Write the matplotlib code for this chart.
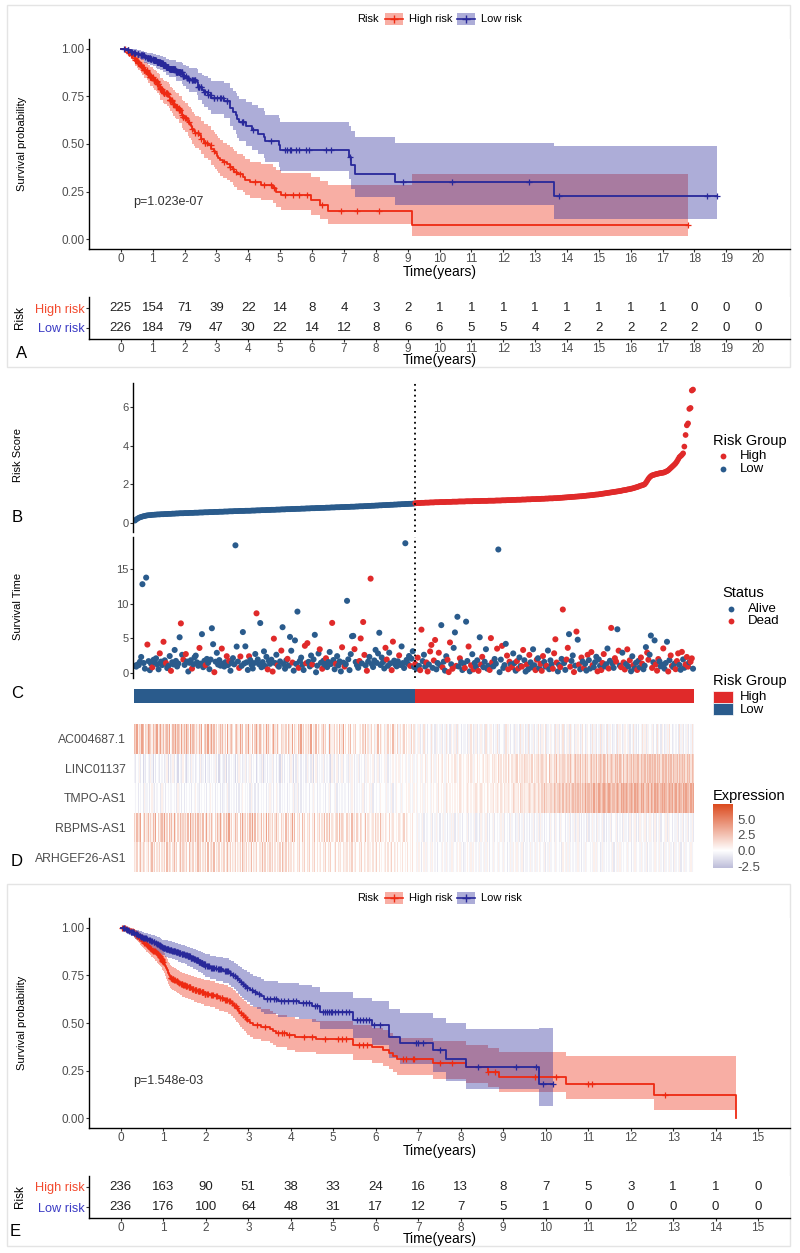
import numpy as np
import matplotlib
matplotlib.use("Agg")
import matplotlib.pyplot as plt
from matplotlib.colors import LinearSegmentedColormap, ListedColormap, TwoSlopeNorm
from matplotlib.patches import Rectangle

plt.rcParams['font.family'] = ['Liberation Sans', 'DejaVu Sans']

W, H = 800, 1253

# ---------------- data ----------------
# training cohort, patients in order of increasing risk score
# survival time in years, "+" = alive (censored)
A_LOW_SURV = """
1.05+ 0.92+ 1.21+ 1.13+ 1.62+ 2.31+ 12.8+ 1.44+ 0.63+ 13.75+
4.1 1.71+ 0.41+ 1.33+ 0.82 1.91+ 1.52+ 2.12+ 1.24+ 0.53+
2.83 1.64+ 1.15+ 4.5 1.83+ 1.42 0.71+ 1.02+ 2.44+ 0.31
1.55+ 1.23+ 3.32+ 1.74+ 0.94+ 1.36+ 5.15+ 7.15 2.62+ 1.93
1.16+ 2.73 1.65+ 0.22+ 1.47+ 1.84+ 0.64 1.26+ 2.25+ 2.51+
1.53+ 1.04+ 3.61 1.35+ 5.6+ 0.84+ 1.76+ 1.12 2.03+ 1.45+
0.55+ 1.94+ 6.45+ 4.15+ 0.12 1.63+ 2.91+ 1.22+ 1.86+ 1.06+
3.52 1.34+ 0.93+ 1.56+ 2.42 1.14+ 1.72 0.33+ 1.46+ 2.14+
1.25+ 18.4+ 3.81+ 1.66+ 0.73 2.38 1.03+ 5.9+ 1.37+ 3.84+
1.54+ 0.44+ 2.41 1.85+ 1.17+ 0.65+ 1.43+ 2.74+ 8.6 1.95+
1.27+ 7.2+ 0.83+ 1.57+ 3.12+ 1.01+ 2.33+ 0.52 1.73+ 1.32+
1.92+ 0.21 4.95 1.44+ 2.63+ 1.11 0.91+ 1.67+ 3.23 6.6+
1.28+ 0.62+ 1.82+ 2.04 1.07+ 5.2+ 3.21+ 1.51 0.34+ 4.7+
1.31+ 8.85+ 0.74 1.75+ 2.22+ 1.18+ 0.43+ 3.92 1.41 4.3
1.61+ 0.95+ 2.52+ 1.23 1.96+ 5.5+ 0.11+ 1.05+ 2.81+ 3.42
1.48+ 0.61 1.77+ 1.19+ 2.13 0.85+ 1.58+ 3.03+ 1.29+ 7.22
1.87+ 0.54+ 1.32 2.43+ 1.08+ 1.68+ 0.23+ 3.71 1.49+ 0.93
1.26+ 10.4+ 1.97+ 0.42+ 2.72+ 5.3+ 5.35+ 3.44 1.59+ 1.13+
0.75+ 1.73 4.98 1.38+ 7.35 2.61 1.09+ 0.32 1.64+ 2.32+
13.6 1.27+ 0.86+ 1.81+ 3.33+ 1.46+ 2.82+ 5.8+ 1.15+ 2.23+
1.56+ 0.66+ 3.63 1.94 1.04+ 2.93+ 1.39+ 0.41 4.52 1.78+
1.22+ 0.96+ 1.69+ 2.54 1.16+ 3.83+ 1.43+ 0.72+ 18.7+ 1.88+
1.34+ 2.45+ 1.02 2.06+ 3.14+ 0.87+
"""
A_HIGH_SURV = """
1.31 0.62+ 2.21 1.04+ 0.41 6.25 1.72+ 2.63+ 0.93+ 1.52
0.22 1.23+ 3.11 4.05 0.74+ 1.81 4.76 0.53+ 1.44+ 2.92
1.13+ 6.9+ 0.82 1.64+ 0.34+ 2.42+ 1.91 0.13 4.4 1.26+
0.61 3.62+ 5.85+ 1.02 8.1+ 0.94+ 2.12 1.55+ 0.43+ 1.35+
0.72 7.4+ 1.73+ 3.82 0.24+ 1.11 2.71+ 0.52 1.46+ 0.91+
1.83+ 0.31 5.15+ 1.22 2.33 0.84+ 1.62+ 3.43+ 0.63+ 1.05+
0.44 5.03 1.53 0.95+ 2.02+ 1.34+ 3.51 17.8+ 0.12+ 1.93+
3.91 0.73+ 1.14+ 4.2+ 2.51 0.54 1.63 1.24+ 0.83 2.82+
1.42+ 0.33+ 1.71 0.64 2.24+ 1.01+ 0.92 3.32 1.84+ 0.21+
1.21 0.51+ 2.61 1.54+ 0.81+ 3.42+ 1.12+ 0.42 1.92 2.13+
0.71+ 1.32 0.32 2.44 1.61+ 0.93+ 1.03 3.24+ 0.55+ 1.82+
1.25+ 0.62 2.84 4.86 1.51 0.23+ 1.15+ 0.85 2.03+ 9.15
1.43+ 0.45+ 1.94 3.63 5.6+ 0.91 1.74+ 2.53+ 0.14 1.06+
5.97 4.8+ 1.22 0.53+ 2.23 1.65+ 0.72 1.33+ 0.35+ 2.62
1.85+ 0.64+ 3.02 1.13 0.83+ 1.56+ 2.34+ 0.24 1.95+ 1.04+
0.43 1.45 2.73 0.94+ 1.27+ 3.53+ 0.65 1.76+ 6.5 1.36+
0.74+ 2.14 1.64 6.3+ 3.22 1.07+ 0.84 2.93+ 1.53 0.51
1.28+ 3.41 0.95+ 1.83 0.25+ 2.41+ 1.14 0.66+ 1.47+ 0.44
1.75+ 0.82+ 2.24 1.34 0.54+ 1.05+ 3.73+ 2.94 1.91 2.64+
5.4+ 0.73 1.55+ 4.7+ 1.23 0.34 2.01 1.66+ 0.96+ 1.16+
3.54 0.63+ 1.44+ 4.5+ 0.22 1.86+ 2.53 1.02 0.85+ 1.35+
0.55 1.72 2.83 1.17+ 0.46+ 3.04 1.96+ 0.75+ 1.24 2.31
0.92 1.54+ 1.62 2.11 0.62+
"""

RISK_SCORE_LOW = [
    0.12, 0.18, 0.22, 0.26, 0.29, 0.31, 0.33, 0.35, 0.36, 0.38,
    0.39, 0.40, 0.40, 0.41, 0.42, 0.42, 0.43, 0.43, 0.44, 0.44,
    0.44, 0.45, 0.45, 0.45, 0.46, 0.46, 0.46, 0.47, 0.47, 0.47,
    0.48, 0.48, 0.48, 0.49, 0.49, 0.49, 0.50, 0.50, 0.50, 0.50,
    0.51, 0.51, 0.51, 0.51, 0.52, 0.52, 0.52, 0.52, 0.53, 0.53,
    0.53, 0.53, 0.54, 0.54, 0.54, 0.54, 0.55, 0.55, 0.55, 0.55,
    0.56, 0.56, 0.56, 0.56, 0.57, 0.57, 0.57, 0.57, 0.58, 0.58,
    0.58, 0.58, 0.59, 0.59, 0.59, 0.59, 0.60, 0.60, 0.60, 0.60,
    0.61, 0.61, 0.61, 0.61, 0.62, 0.62, 0.62, 0.62, 0.62, 0.63,
    0.63, 0.63, 0.63, 0.63, 0.64, 0.64, 0.64, 0.64, 0.65, 0.65,
    0.65, 0.65, 0.66, 0.66, 0.66, 0.66, 0.67, 0.67, 0.67, 0.67,
    0.68, 0.68, 0.68, 0.68, 0.69, 0.69, 0.69, 0.69, 0.70, 0.70,
    0.70, 0.70, 0.71, 0.71, 0.71, 0.71, 0.72, 0.72, 0.72, 0.72,
    0.73, 0.73, 0.73, 0.73, 0.74, 0.74, 0.74, 0.74, 0.75, 0.75,
    0.75, 0.75, 0.76, 0.76, 0.76, 0.76, 0.77, 0.77, 0.77, 0.77,
    0.78, 0.78, 0.78, 0.78, 0.79, 0.79, 0.79, 0.79, 0.80, 0.80,
    0.80, 0.80, 0.81, 0.81, 0.81, 0.81, 0.82, 0.82, 0.82, 0.82,
    0.83, 0.83, 0.83, 0.83, 0.84, 0.84, 0.84, 0.84, 0.85, 0.85,
    0.85, 0.86, 0.86, 0.86, 0.86, 0.87, 0.87, 0.87, 0.88, 0.88,
    0.88, 0.89, 0.89, 0.89, 0.90, 0.90, 0.90, 0.91, 0.91, 0.91,
    0.92, 0.92, 0.92, 0.93, 0.93, 0.93, 0.94, 0.94, 0.94, 0.95,
    0.95, 0.95, 0.96, 0.96, 0.96, 0.97, 0.97, 0.97, 0.98, 0.98,
    0.98, 0.99, 0.99, 0.99, 1.00, 1.00,
]
RISK_SCORE_HIGH = [
    1.02, 1.02, 1.03, 1.03, 1.03, 1.04, 1.04, 1.04, 1.05, 1.05,
    1.05, 1.05, 1.06, 1.06, 1.06, 1.06, 1.07, 1.07, 1.07, 1.07,
    1.08, 1.08, 1.08, 1.08, 1.08, 1.09, 1.09, 1.09, 1.09, 1.09,
    1.10, 1.10, 1.10, 1.10, 1.10, 1.11, 1.11, 1.11, 1.11, 1.11,
    1.11, 1.12, 1.12, 1.12, 1.12, 1.12, 1.12, 1.13, 1.13, 1.13,
    1.13, 1.13, 1.13, 1.14, 1.14, 1.14, 1.14, 1.14, 1.14, 1.15,
    1.15, 1.15, 1.15, 1.15, 1.15, 1.16, 1.16, 1.16, 1.16, 1.16,
    1.17, 1.17, 1.17, 1.17, 1.18, 1.18, 1.18, 1.18, 1.19, 1.19,
    1.19, 1.19, 1.20, 1.20, 1.20, 1.20, 1.21, 1.21, 1.21, 1.21,
    1.22, 1.22, 1.22, 1.22, 1.23, 1.23, 1.23, 1.23, 1.24, 1.24,
    1.24, 1.24, 1.25, 1.25, 1.25, 1.26, 1.26, 1.26, 1.27, 1.27,
    1.27, 1.27, 1.28, 1.28, 1.28, 1.29, 1.29, 1.30, 1.30, 1.31,
    1.31, 1.32, 1.32, 1.33, 1.33, 1.34, 1.34, 1.35, 1.35, 1.36,
    1.36, 1.37, 1.37, 1.38, 1.38, 1.39, 1.40, 1.40, 1.41, 1.42,
    1.42, 1.43, 1.44, 1.44, 1.45, 1.46, 1.47, 1.47, 1.48, 1.49,
    1.50, 1.51, 1.52, 1.53, 1.54, 1.55, 1.56, 1.57, 1.58, 1.59,
    1.60, 1.61, 1.62, 1.63, 1.64, 1.65, 1.66, 1.68, 1.69, 1.70,
    1.71, 1.73, 1.74, 1.75, 1.77, 1.78, 1.80, 1.82, 1.84, 1.86,
    1.88, 1.91, 1.93, 1.95, 1.97, 2.00, 2.08, 2.18, 2.28, 2.36,
    2.42, 2.46, 2.48, 2.50, 2.52, 2.54, 2.55, 2.57, 2.58, 2.59,
    2.60, 2.62, 2.65, 2.68, 2.72, 2.78, 2.84, 2.90, 2.96, 3.02,
    3.09, 3.18, 3.29, 3.40, 3.46, 3.52, 3.60, 3.95, 4.55, 5.05,
    5.15, 5.90, 5.95, 6.85, 6.90,
]

A_YEARS = list(range(0, 21))
A_HIGH_RISK = [225, 154, 71, 39, 22, 14, 8, 4, 3, 2, 1, 1, 1, 1, 1, 1, 1, 1, 0, 0, 0]
A_LOW_RISK = [226, 184, 79, 47, 30, 22, 14, 12, 8, 6, 6, 5, 5, 4, 2, 2, 2, 2, 2, 0, 0]

# expression heatmap, one digit per patient (same order), level index into EXPR_LEVELS
GENES = ['AC004687.1', 'LINC01137', 'TMPO-AS1', 'RBPMS-AS1', 'ARHGEF26-AS1']
EXPR_LEVELS = [-2.2, -1.6, -1.0, -0.5, 0.0, 0.6, 1.2, 1.9, 2.8, 3.8]
EXPR_CODES = [
    # AC004687.1
    "8795769847 6987586795 7968578694 5879687596 8697496875 7586947869 5796857468 6857495786 "
    "4786596847 7695484796 5864759685 4796585476 6574865947 5486957465 7594658475 4685743965 "
    "5746485694 6475846574 4564758463 5746358475 4635746485 5473645746 453746 "
    "3435243634 2436342534 3524363425 4352634243 3425364235 2435342634 3542436324 4326354243 "
    "2534263542 3624352436 4253462345 3426352436 2435263425 3542364235 4236352436 2534263542 "
    "3426354235 4352436324 2436352534 3524263425 4235364234 3426352435 24363",
    # LINC01137
    "3243524132 4325314243 2434235142 3524314325 4213425342 3425234143 2434352413 4325142434 "
    "3142534235 2435243413 4325134243 3524243152 4243425314 2534243425 3425145243 4352434215 "
    "3245243524 4325354243 5243425354 3452435243 4535243454 3545345435 435453 "
    "4354535463 5436453546 4564354645 5465346545 4556465354 6454564565 5465654756 4656475465 "
    "5674656576 6565746567 5676567486 6576857667 7657686578 6768576867 5786768578 7687586787 "
    "6878687586 7867868778 8687786878 7878687868 8786878687 7868787868 78687",
    # TMPO-AS1
    "4342434253 3424532434 4253424343 3434253424 2434342435 4324343424 3543424342 4234352434 "
    "3424243543 4342534243 2434342435 3424534243 4342434352 3524243434 4243534243 3434243524 "
    "4352434343 3424354243 4343524345 3524434354 4435343524 3544353445 453435 "
    "4534545354 5435454536 4545365454 5454546545 4565454556 5456545465 4556456546 5465565457 "
    "6556476565 5676567657 6576867667 7687678768 6787867878 7878687978 8787978798 7898789878 "
    "8789879898 9878987989 8798978897 9879898789 8987898978 9789879898 87989",
    # RBPMS-AS1
    "7586794685 6857586947 5786957486 8596475867 6758496758 5867584695 7586475869 6475869574 "
    "5867485967 4758695847 6584759486 5746856475 6485746958 4657485746 5746584657 4658475846 "
    "5467485764 4756485647 5476458465 4564756485 5465474564 4546545746 545464 "
    "4353435243 3435243534 2435342435 3524353424 4352434352 3425343524 2435243435 3524342534 "
    "4235243524 3424352435 2534243425 3425342534 4243524352 3524243425 2435342534 3524243524 "
    "4352434253 3425243524 2534352435 3425243524 4352534243 3524352435 24352",
    # ARHGEF26-AS1
    "6574685764 5746857465 7465748576 4685746857 6574865746 5867465748 4675846574 6574685746 "
    "5746574865 7465846574 4658574657 5746465748 6574756465 4657465746 5746574645 6465746574 "
    "4574656465 5646574564 4657465465 5464574645 4564645746 5464546454 645464 "
    "4535424535 3453543424 4354353435 5343545342 3454353543 4353435354 2435343534 3534243535 "
    "4353435243 3435343534 5343524353 3435343425 4353534343 3534243534 4343535342 3534343435 "
    "2435353434 3534243534 4353435243 3435343534 2534353425 3435243534 43534",
]

# validation cohort: death times and censoring times (years)
E_HIGH_DEATH = [
    0.05, 0.12, 0.18, 0.22, 0.27, 0.3, 0.32, 0.34, 0.36, 0.38, 0.4, 0.42, 0.44, 0.46, 0.48,
    0.5, 0.52, 0.54, 0.56, 0.58, 0.6, 0.63, 0.66, 0.68, 0.7, 0.72, 0.75, 0.78, 0.81,
    0.84, 0.86, 0.88, 0.9, 0.92, 0.94, 0.96, 0.97, 0.98, 0.99,
    1.01, 1.02, 1.03, 1.04, 1.05, 1.06, 1.07, 1.08, 1.09, 1.1, 1.11, 1.12, 1.13, 1.14, 1.15,
    1.16, 1.17, 1.2, 1.25, 1.29, 1.33, 1.36, 1.39, 1.45, 1.52, 1.58, 1.65, 1.72, 1.8, 1.88, 1.96,
    2.1, 2.22, 2.3, 2.42, 2.52, 2.6, 2.64, 2.68, 2.72, 2.75, 2.78, 2.8, 2.86, 2.9, 2.95, 2.98,
    3.05, 3.1, 3.3, 3.52, 3.58, 3.64, 3.9, 4.1, 4.6, 5.46, 5.46, 5.9,
    6.17, 6.3, 6.4, 6.5, 7.34, 8.13, 8.63, 8.91, 10.48, 12.56, 14.47,
]
E_HIGH_CENS = [
    0.03, 0.08, 0.1, 0.15, 0.2, 0.25, 0.29, 0.31, 0.35, 0.39, 0.43, 0.47, 0.51, 0.55, 0.59,
    0.62, 0.65, 0.69, 0.71, 0.74, 0.76, 0.79, 0.8, 0.83, 0.85, 0.87, 0.89, 0.91, 0.93, 0.95,
    0.96, 0.97, 0.98, 0.99,
    1.18, 1.19, 1.22, 1.23, 1.27, 1.31, 1.34, 1.38, 1.41, 1.43, 1.47, 1.49, 1.5, 1.54, 1.56,
    1.6, 1.62, 1.63, 1.67, 1.69, 1.7, 1.74, 1.76, 1.78, 1.82, 1.84, 1.86, 1.9, 1.92, 1.94,
    1.97, 1.98, 1.99, 1.21, 1.26, 1.32, 1.44, 1.53, 1.61, 1.75, 1.85, 1.93,
    2.03, 2.06, 2.14, 2.18, 2.25, 2.27, 2.34, 2.37, 2.45, 2.48, 2.55, 2.58, 2.62, 2.66, 2.7,
    2.74, 2.83, 2.88, 2.92, 2.96, 2.12, 2.39, 2.5,
    3.2, 3.4, 3.7, 3.8, 3.85, 3.95, 4.3, 4.5, 4.8, 5.1, 5.2, 5.3, 5.6, 5.7, 5.8,
    6.64, 6.7, 6.87, 6.9, 7.5, 7.8, 8.65, 8.8, 9.74, 10.24, 11.0, 11.1, 12.8,
]
E_LOW_DEATH = [
    0.05, 0.1, 0.12, 0.18, 0.22, 0.25, 0.3, 0.33, 0.38, 0.42, 0.45, 0.5, 0.55, 0.6, 0.64,
    0.7, 0.75, 0.8, 0.84, 0.88, 0.92, 0.95, 0.98,
    1.05, 1.12, 1.2, 1.28, 1.35, 1.42, 1.5, 1.56, 1.63, 1.7, 1.76, 1.82, 1.88, 1.93, 1.98,
    2.1, 2.25, 2.4, 2.55, 2.6, 2.66, 2.72, 2.76, 2.8, 2.85, 2.9, 2.96,
    3.05, 3.12, 3.2, 3.3, 3.38, 3.7, 4.2, 4.5, 4.68, 4.68, 5.46, 5.46, 5.9,
    6.32, 6.32, 6.56, 7.34, 7.66, 8.13, 9.85,
]
E_LOW_CENS = [
    0.04, 0.08, 0.11, 0.15, 0.17, 0.2, 0.23, 0.27, 0.29, 0.32, 0.35, 0.37, 0.4, 0.44, 0.47,
    0.49, 0.52, 0.54, 0.57, 0.59, 0.62, 0.66, 0.68, 0.72, 0.74, 0.77, 0.79, 0.82, 0.85, 0.87,
    0.9, 0.91, 0.93, 0.94, 0.96, 0.97, 0.99,
    1.02, 1.04, 1.06, 1.08, 1.1, 1.11, 1.14, 1.16, 1.18, 1.19, 1.22, 1.24, 1.25, 1.27, 1.3,
    1.31, 1.33, 1.34, 1.37, 1.39, 1.4, 1.43, 1.45, 1.47, 1.48, 1.52, 1.53, 1.55, 1.58, 1.6,
    1.61, 1.62, 1.65, 1.66, 1.68, 1.69, 1.72, 1.73, 1.75, 1.78, 1.79, 1.8, 1.81, 1.84, 1.85,
    1.86, 1.87, 1.89, 1.9, 1.91, 1.92, 1.94, 1.95, 1.96, 1.97, 1.99, 1.01, 1.09, 1.21, 1.36, 1.57,
    2.02, 2.05, 2.08, 2.12, 2.15, 2.18, 2.2, 2.23, 2.28, 2.3, 2.33, 2.36, 2.44, 2.48, 2.5,
    2.52, 2.58, 2.63, 2.69, 2.74, 2.82, 2.88, 2.93, 2.98,
    3.08, 3.16, 3.25, 3.45, 3.52, 3.6, 3.66, 3.78, 3.85, 3.93,
    4.05, 4.12, 4.28, 4.35, 4.42, 4.58, 4.62, 4.75, 4.8, 4.85, 4.9, 4.94, 4.98,
    5.05, 5.1, 5.2, 5.3, 5.38, 5.55, 5.62, 5.7, 5.78, 5.84, 5.95,
    6.1, 6.95, 7.0, 7.1, 7.5, 8.4, 9.3, 9.77, 9.93, 10.16,
]

E_YEARS = list(range(0, 16))
E_HIGH_RISK = [236, 163, 90, 51, 38, 33, 24, 16, 13, 8, 7, 5, 3, 1, 1, 0]
E_LOW_RISK = [236, 176, 100, 64, 48, 31, 17, 12, 7, 5, 1, 0, 0, 0, 0, 0]

# ---------------- styling ----------------
RED = '#EE2A12'
BLUE = '#28289A'
TXT_RED = '#F24A2E'
TXT_BLUE = '#3B3BC4'
PT_RED = '#E02A2A'
PT_BLUE = '#2A5B8C'
GREY = '#4D4D4D'


def parse_surv(text):
    toks = text.split()
    t = np.array([float(s.rstrip('+')) for s in toks])
    dead = np.array([not s.endswith('+') for s in toks])
    return t, dead


def km_fit(times, dead):
    times = np.asarray(times, float)
    dead = np.asarray(dead, bool)
    xs, ys, lo, hi = [0.0], [1.0], [1.0], [1.0]
    s, gw = 1.0, 0.0
    for t in np.unique(times[dead]):
        n = np.sum(times >= t)
        d = np.sum((times == t) & dead)
        s *= 1 - d / n
        if n > d:
            gw += d / (n * (n - d))
            se = np.sqrt(gw)
            lo.append(s * np.exp(-1.96 * se))
            hi.append(min(1.0, s * np.exp(1.96 * se)))
        else:
            lo.append(lo[-1])
            hi.append(hi[-1])
        xs.append(t)
        ys.append(s)
    end = times.max()
    if end > xs[-1]:
        xs.append(end); ys.append(ys[-1]); lo.append(lo[-1]); hi.append(hi[-1])
    xs, ys = np.array(xs), np.array(ys)
    cens = np.sort(times[~dead])
    cy = ys[np.searchsorted(xs, cens, side='right') - 1]
    return xs, ys, np.array(lo), np.array(hi), cens, cy


def box(x0, y0, x1, y1):
    return [x0 / W, 1 - y1 / H, (x1 - x0) / W, (y1 - y0) / H]


fig = plt.figure(figsize=(W / 100, H / 100), dpi=100)
ov = fig.add_axes([0, 0, 1, 1])
ov.set_xlim(0, W)
ov.set_ylim(H, 0)
ov.axis('off')


def style_axis(ax, size=8.5):
    ax.spines[['top', 'right']].set_visible(False)
    ax.spines[['left', 'bottom']].set_linewidth(1.0)
    ax.tick_params(length=2.2, width=0.8, color='#333333', labelsize=size,
                   labelcolor=GREY, pad=1.0)


def km_panel(top, high, low, years, high_n, low_n, xmax, pval, letter):
    # top = pixel y of panel border top
    ov.add_patch(Rectangle((7, top), 783, 362, fill=False, ec='#E4E4E4', lw=1.0))
    # legend
    ly = top + 14
    ov.text(357, ly, 'Risk', fontsize=8, va='center', ha='left')
    for x0, col, lab in [(385, RED, 'High risk'), (457, BLUE, 'Low risk')]:
        ov.add_patch(Rectangle((x0, ly - 6), 18, 12, fc=col, alpha=0.38, lw=0))
        ov.plot([x0, x0 + 18], [ly, ly], color=col, lw=1.2)
        ov.plot(x0 + 9, ly, '+', color=col, ms=6, mew=1.0)
        ov.text(x0 + 24, ly, lab, fontsize=8, va='center', ha='left')

    ax = fig.add_axes(box(89, top + 34, 790, top + 244))
    curves = [(high, RED), (low, BLUE)]
    fits = [(km_fit(*g), c) for g, c in curves]
    for (xs, ys, lo, hi, cx, cy), c in fits:
        ax.fill_between(xs, lo, hi, step='post', color=c, alpha=0.38, lw=0)
    for (xs, ys, lo, hi, cx, cy), c in fits:
        ax.step(xs, ys, where='post', color=c, lw=1.3)
        ax.plot(cx, cy, '+', color=c, ms=5, mew=0.9, ls='none')
    ax.set_xlim(-xmax * 0.05, xmax * 1.05)
    ax.set_ylim(-0.05, 1.05)
    ax.set_xticks(years)
    ax.set_yticks([0, 0.25, 0.5, 0.75, 1.0])
    ax.set_yticklabels(['0.00', '0.25', '0.50', '0.75', '1.00'])
    style_axis(ax)
    ax.text(133, top + 197, pval, fontsize=9, color='#333333', va='center', ha='left',
            transform=ov.transData)
    fig.text(22 / W, 1 - (top + 139) / H, 'Survival probability', rotation=90,
             fontsize=8, va='center', ha='center')
    fig.text(440 / W, 1 - (top + 267) / H, 'Time(years)', fontsize=10,
             va='center', ha='center')

    # number at risk table
    tb = fig.add_axes(box(89, top + 292, 790, top + 334))
    tb.set_xlim(-xmax * 0.05, xmax * 1.05)
    tb.set_ylim(0.45, 2.55)
    for yr, n in zip(years, high_n):
        tb.text(yr, 2, str(n), fontsize=9.5, ha='center', va='center', color='#222222')
    for yr, n in zip(years, low_n):
        tb.text(yr, 1, str(n), fontsize=9.5, ha='center', va='center', color='#222222')
    tb.set_xticks(years)
    tb.set_yticks([1, 2])
    tb.set_yticklabels(['Low risk', 'High risk'])
    style_axis(tb)
    tb.tick_params(axis='y', labelsize=9.2)
    lbls = tb.get_yticklabels()
    lbls[0].set_color(TXT_BLUE)
    lbls[1].set_color(TXT_RED)
    fig.text(20 / W, 1 - (top + 313) / H, 'Risk', rotation=90, fontsize=8.5,
             va='center', ha='center')
    fig.text(440 / W, 1 - (top + 355) / H, 'Time(years)', fontsize=10,
             va='center', ha='center')
    fig.text(letter[1] / W, 1 - (top + letter[2]) / H, letter[0], fontsize=12,
             va='center', ha='center')


# ---------------- panel A ----------------
lt, ld = parse_surv(A_LOW_SURV)
ht, hd = parse_surv(A_HIGH_SURV)
km_panel(5, (ht, hd), (lt, ld), A_YEARS, A_HIGH_RISK, A_LOW_RISK, 20,
         'p=1.023e-07', ('A', 22, 348))

# ---------------- panels B-D ----------------
score = np.array(RISK_SCORE_LOW + RISK_SCORE_HIGH)
n_low = len(RISK_SCORE_LOW)
n_all = len(score)
rank = np.arange(1, n_all + 1)
is_high = rank > n_low
XL = (-0.6, n_all + 3.2)
cut = n_low + 0.5

axb = fig.add_axes(box(133, 383, 697, 532))
axb.scatter(rank, score, s=17, c=np.where(is_high, PT_RED, PT_BLUE), lw=0)
axb.axvline(cut, color='black', lw=1.3, ls=(0, (1, 2)))
axb.set_xlim(*XL)
axb.set_ylim(-0.47, 7.24)
axb.set_yticks([0, 2, 4, 6])
axb.set_xticks([])
style_axis(axb, 8)
axb.spines['bottom'].set_visible(False)
fig.text(18 / W, 1 - 455 / H, 'Risk Score', rotation=90, fontsize=8, va='center', ha='center')
fig.text(17 / W, 1 - 518 / H, 'B', fontsize=12, va='center', ha='center')

surv_t = np.concatenate([lt, ht])
surv_d = np.concatenate([ld, hd])
axc = fig.add_axes(box(133, 537, 697, 678))
axc.scatter(rank, surv_t, s=19, c=np.where(surv_d, PT_RED, PT_BLUE), lw=0)
axc.axvline(cut, color='black', lw=1.3, ls=(0, (1, 2)))
axc.set_xlim(*XL)
axc.set_ylim(-0.72, 19.6)
axc.set_yticks([0, 5, 10, 15])
axc.set_xticks([])
style_axis(axc, 8)
axc.spines['bottom'].set_visible(False)
fig.text(18 / W, 1 - 606 / H, 'Survival Time', rotation=90, fontsize=8, va='center', ha='center')

axg = fig.add_axes(box(133, 689, 697, 703))
axg.imshow(is_high.astype(int)[None, :], aspect='auto', interpolation='nearest',
           cmap=ListedColormap([PT_BLUE, PT_RED]), extent=[0.5, n_all + 0.5, 0, 1])
axg.set_xlim(*XL)
axg.axis('off')
fig.text(17 / W, 1 - 694 / H, 'C', fontsize=12, va='center', ha='center')

codes = [c.replace(' ', '') for c in EXPR_CODES]
ncol = min(len(c) for c in codes)
expr = np.array([[EXPR_LEVELS[int(ch)] for ch in c[:ncol]] for c in codes])
hm_cmap = LinearSegmentedColormap.from_list('expr', ['#BDBDD9', '#FFFFFF', '#DC4B1F'])
hm_norm = TwoSlopeNorm(vmin=-2.8, vcenter=0, vmax=7.4)
axd = fig.add_axes(box(133, 724, 697, 872))
axd.imshow(expr, aspect='auto', interpolation='nearest', cmap=hm_cmap, norm=hm_norm,
           extent=[0.5, ncol + 0.5, len(GENES) + 0.5, 0.5])
axd.set_xlim(*XL)
axd.set_yticks(np.arange(1, len(GENES) + 1))
axd.set_yticklabels(GENES)
axd.set_xticks([])
for sp in axd.spines.values():
    sp.set_visible(False)
axd.tick_params(length=0, labelsize=8.8, labelcolor=GREY, pad=5)
fig.text(17 / W, 1 - 862 / H, 'D', fontsize=12, va='center', ha='center')

# legends on the right
ov.text(713, 441, 'Risk Group', fontsize=10.5, va='center', ha='left')
for yy, col, lab in [(456, PT_RED, 'High'), (469, PT_BLUE, 'Low')]:
    ov.plot(723, yy, 'o', color=col, ms=4.2, mew=0)
    ov.text(740, yy, lab, fontsize=9.5, va='center', ha='left')
ov.text(722, 593, 'Status', fontsize=10.5, va='center', ha='left')
for yy, col, lab in [(609, PT_BLUE, 'Alive'), (621, PT_RED, 'Dead')]:
    ov.plot(731, yy, 'o', color=col, ms=4.2, mew=0)
    ov.text(748, yy, lab, fontsize=9.5, va='center', ha='left')
ov.text(713, 681, 'Risk Group', fontsize=10.5, va='center', ha='left')
ov.add_patch(Rectangle((713, 691), 20, 12, fc=PT_RED, ec='white', lw=0.5))
ov.add_patch(Rectangle((713, 703), 20, 12, fc=PT_BLUE, ec='white', lw=0.5))
ov.text(740, 697, 'High', fontsize=9.5, va='center', ha='left')
ov.text(740, 710, 'Low', fontsize=9.5, va='center', ha='left')
ov.text(713, 796, 'Expression', fontsize=10.5, va='center', ha='left')

cax = fig.add_axes(box(713, 804, 733, 868))
grad = np.linspace(-2.8, 7.4, 256)[:, None]
cax.imshow(grad, aspect='auto', origin='lower', cmap=hm_cmap, norm=hm_norm,
           extent=[0, 1, -2.8, 7.4])
cax.set_xticks([])
cax.yaxis.tick_right()
cax.set_yticks([-2.5, 0, 2.5, 5.0])
cax.set_yticklabels(['-2.5', '0.0', '2.5', '5.0'])
cax.tick_params(length=0, labelsize=9.5, labelcolor=GREY, pad=3)
for sp in cax.spines.values():
    sp.set_visible(False)

# ---------------- panel E ----------------
eh_t = np.array(E_HIGH_DEATH + E_HIGH_CENS)
eh_d = np.array([True] * len(E_HIGH_DEATH) + [False] * len(E_HIGH_CENS))
el_t = np.array(E_LOW_DEATH + E_LOW_CENS)
el_d = np.array([True] * len(E_LOW_DEATH) + [False] * len(E_LOW_CENS))
km_panel(884, (eh_t, eh_d), (el_t, el_d), E_YEARS, E_HIGH_RISK, E_LOW_RISK, 15,
         'p=1.548e-03', ('E', 15, 348))

fig.savefig('out.png', dpi=100)
